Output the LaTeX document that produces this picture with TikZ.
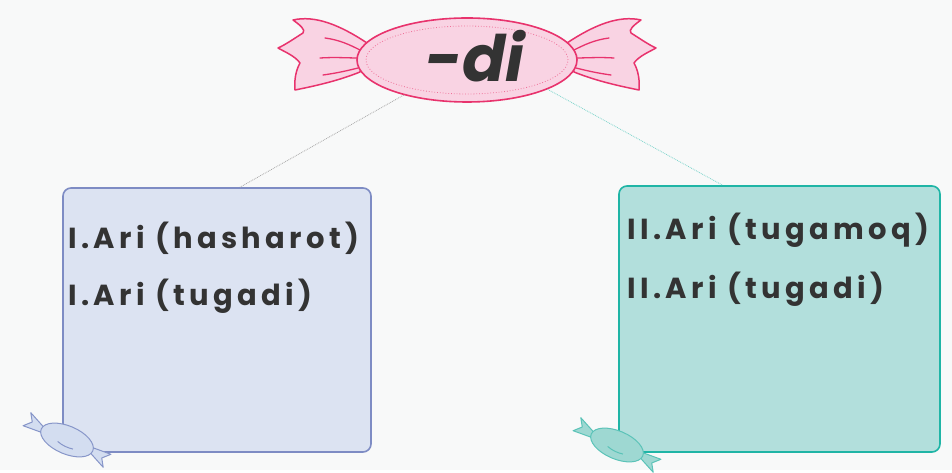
\documentclass[tikz,border=0pt]{standalone}
\usepackage{fontspec}
\setmainfont{Poppins}
\newfontfamily\entryfont{Poppins}[LetterSpace=15]
\usetikzlibrary{shapes.geometric}
\definecolor{bg}{HTML}{F8F9F9}
\definecolor{candypink}{HTML}{F9D3E3}
\definecolor{candyedge}{HTML}{E8336D}
\definecolor{bluefill}{HTML}{DCE3F2}
\definecolor{blueedge}{HTML}{7E8CC4}
\definecolor{tealfill}{HTML}{B2DFDC}
\definecolor{tealedge}{HTML}{1FB5A6}
\definecolor{sweetblue}{HTML}{D3DDF0}
\definecolor{sweetblueedge}{HTML}{8796C9}
\definecolor{sweetteal}{HTML}{9ED8D2}
\definecolor{sweettealedge}{HTML}{5BC3B8}
\definecolor{ink}{HTML}{333333}
\begin{document}
\begin{tikzpicture}[x=1pt,y=1pt,
    card/.style={draw, line width=1.6pt, rounded corners=8pt, inner sep=0pt},
    entry/.style={anchor=west, inner sep=0pt, text=ink, font=\entryfont\bfseries\fontsize{29}{29}\selectfont},
    wrapper/.style={fill=candypink, draw=candyedge, line width=1.5pt, line join=round},
    fold/.style={draw=candyedge, line width=1.3pt, line cap=round}]
    \fill[bg] (0,0) rectangle (952,470);
    \draw[wrapper] (367,427) .. controls (340,445) and (315,455) .. (293,450)
        .. controls (300,445) and (306,440) .. (303,437)
        .. controls (295,432) and (285,425) .. (278,422)
        .. controls (285,418) and (295,414) .. (300,407)
        .. controls (296,400) and (294,390) .. (295,380)
        .. controls (320,385) and (340,390) .. (360,398) -- cycle;
    \draw[fold] (325,432) .. controls (340,430) and (350,425) .. (360,420);
    \draw[fold] (320,412) .. controls (335,413) and (348,412) .. (358,412);
    \draw[fold] (323,395) .. controls (338,397) and (350,400) .. (358,402);
    \begin{scope}[xshift=934pt, xscale=-1]
        \draw[wrapper] (367,427) .. controls (340,445) and (315,455) .. (293,450)
            .. controls (300,445) and (306,440) .. (303,437)
            .. controls (295,432) and (285,425) .. (278,422)
            .. controls (285,418) and (295,414) .. (300,407)
            .. controls (296,400) and (294,390) .. (295,380)
            .. controls (320,385) and (340,390) .. (360,398) -- cycle;
        \draw[fold] (325,432) .. controls (340,430) and (350,425) .. (360,420);
        \draw[fold] (320,412) .. controls (335,413) and (348,412) .. (358,412);
        \draw[fold] (323,395) .. controls (338,397) and (350,400) .. (358,402);
    \end{scope}
    \node[ellipse, fill=candypink, draw=candyedge, line width=1.6pt, minimum width=220pt, minimum height=84pt, inner sep=0pt] (di) at (467,410) {};
    \draw[candyedge!70, dotted, line width=0.8pt] (467,410) ellipse (101pt and 34pt);
    \node[text=ink, font=\bfseries\itshape\fontsize{64}{64}\selectfont] (suffix) at (475,414) {-di};
    \node[card, fill=bluefill, draw=blueedge, minimum width=308pt, minimum height=264pt] (boxI) at (217,150) {};
    \node[card, fill=tealfill, draw=tealedge, minimum width=321pt, minimum height=266pt] (boxII) at (779.5,151) {};
    \draw[gray!70, densely dotted, line width=0.8pt] (di.209) -- ([xshift=23pt]boxI.north);
    \draw[tealedge!60, densely dotted, line width=0.8pt] (di.340) -- ([xshift=-57pt]boxII.north);
    \node[entry] (hasharot) at (68,232) {I.Ari (hasharot)};
    \node[entry] (tugadiI) at (68,174) {I.Ari (tugadi)};
    \node[entry] (tugamoq) at (627,240) {II.Ari (tugamoq)};
    \node[entry] (tugadiII) at (627,181) {II.Ari (tugadi)};
    \begin{scope}[shift={(67,30)}, rotate=-23, fill=sweetblue, draw=sweetblueedge, line width=1pt, line join=round]
        \filldraw (-27,3) -- (-44,11) -- (-39,3) -- (-46,-4) -- (-27,-3) -- cycle;
        \filldraw (27,3) -- (46,4) -- (39,-3) -- (44,-11) -- (27,-3) -- cycle;
        \filldraw (0,0) ellipse (28pt and 14pt);
        \draw (-8,-5) .. controls (-2,-7) and (4,-7) .. (9,-6);
    \end{scope}
    \begin{scope}[shift={(617,25)}, rotate=-23, fill=sweetteal, draw=sweettealedge, line width=1pt, line join=round]
        \filldraw (-27,3) -- (-44,11) -- (-39,3) -- (-46,-4) -- (-27,-3) -- cycle;
        \filldraw (27,3) -- (46,4) -- (39,-3) -- (44,-11) -- (27,-3) -- cycle;
        \filldraw (0,0) ellipse (28pt and 14pt);
        \draw (-8,-5) .. controls (-2,-7) and (4,-7) .. (9,-6);
    \end{scope}
\end{tikzpicture}
\end{document}
